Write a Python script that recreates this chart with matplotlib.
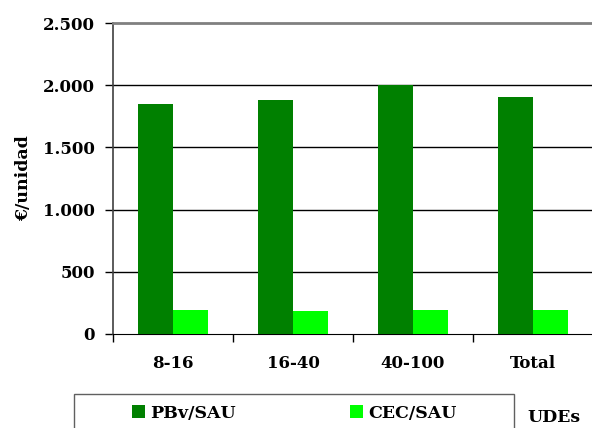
import numpy as np
import matplotlib.pyplot as plt
from matplotlib.patches import Rectangle
from matplotlib.ticker import FuncFormatter

# Data
categories = ["8-16", "16-40", "40-100", "Total"]
pbv_sau = [1850, 1880, 2000, 1905]
cec_sau = [195, 185, 195, 195]
series_names = ["PBv/SAU", "CEC/SAU"]

plt.rcParams['font.family'] = ['DejaVu Serif']
plt.rcParams['font.size'] = 12

fig = plt.figure(figsize=(5.92, 4.28), dpi=100)
ax = fig.add_axes([113 / 592, 94 / 428, 480 / 592, 311 / 428])

x = np.arange(len(categories))
w = 0.29
ax.bar(x - w / 2, pbv_sau, w, color="#008000", label=series_names[0], zorder=3)
ax.bar(x + w / 2, cec_sau, w, color="#00FF00", label=series_names[1], zorder=3)

ax.set_xlim(-0.5, len(categories) - 0.5)
ax.set_ylim(0, 2500)

# y axis
ax.set_yticks(np.arange(0, 2501, 500))
ax.yaxis.set_major_formatter(FuncFormatter(lambda v, p: f"{int(v):,}".replace(",", ".")))
ax.tick_params(axis="y", length=6, width=1, pad=7, labelsize=12)
for lbl in ax.get_yticklabels():
    lbl.set_fontweight("bold")
for v in [500, 1000, 1500, 2000]:
    ax.axhline(v, color="black", linewidth=1, zorder=1)

# x axis: ticks at category boundaries, labels at centers
ax.set_xticks(np.arange(-0.5, len(categories) - 0.5, 1))
ax.set_xticklabels([])
ax.set_xticks(x, minor=True)
ax.set_xticklabels(categories, minor=True, fontweight="bold", fontsize=12)
ax.tick_params(axis="x", which="major", length=6, width=1)
ax.tick_params(axis="x", which="minor", length=0, pad=15)

ax.spines["right"].set_visible(False)
ax.spines["top"].set_color("#808080")
ax.spines["top"].set_linewidth(2)
ax.spines["left"].set_color("#404040")
ax.spines["left"].set_linewidth(1.2)
ax.spines["bottom"].set_color("black")

ax.set_ylabel("€/unidad", fontweight="bold", fontsize=12.5, labelpad=8)

# legend box extending past the bottom edge
fig.patches.append(Rectangle((74 / 592, -0.05), 440 / 592, 0.05 + 34 / 428,
                             transform=fig.transFigure, fill=False,
                             edgecolor="#606060", linewidth=1))
fig.legend(loc="center left", bbox_to_anchor=(132 / 592, 1 - 413 / 428), ncol=2,
           frameon=False, borderpad=0, borderaxespad=0,
           handlelength=0.75, handleheight=0.75, handletextpad=0.3,
           columnspacing=6.6, prop={"weight": "bold", "size": 12.5})

fig.text(527 / 592, 1 - 418 / 428, "UDEs", fontweight="bold", fontsize=12.5, va="center")

fig.savefig("out.png", dpi=100)
